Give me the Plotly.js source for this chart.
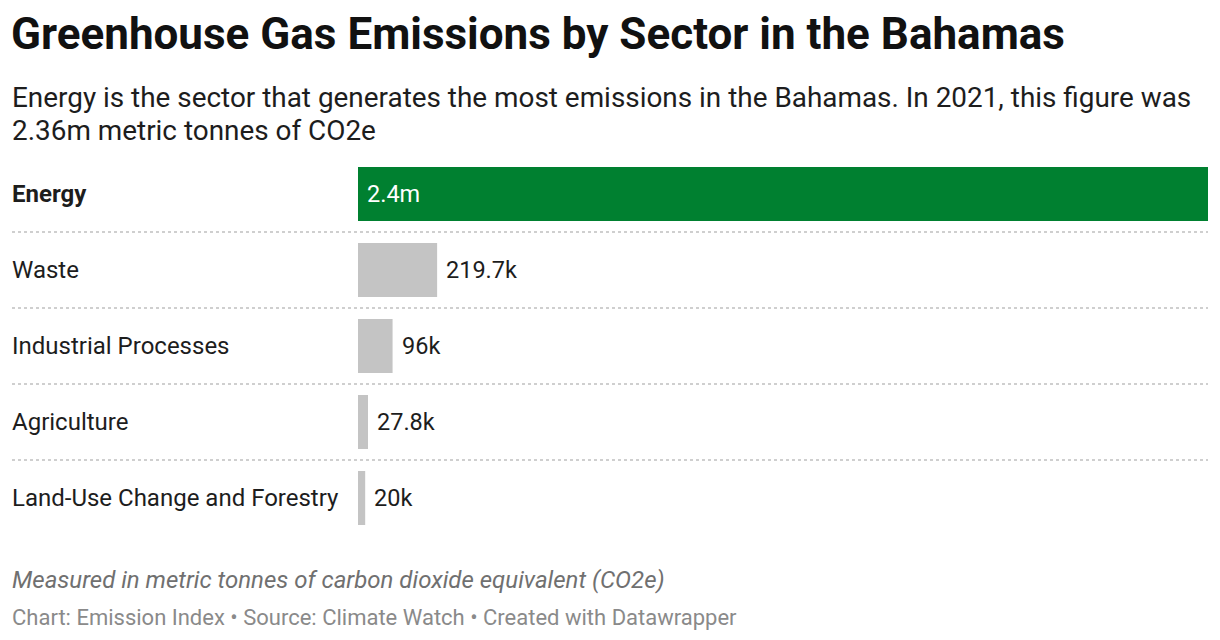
<!DOCTYPE html>
<html>
<head>
<meta charset="utf-8">
<script src="https://cdn.plot.ly/plotly-3.0.1.min.js"></script>
<style>
html, body { margin: 0; padding: 0; background: #fff; }
#chart { width: 1220px; height: 640px; }
</style>
</head>
<body>
<div id="chart"></div>
<script>
// sectors, top to bottom
var sectors = ['Energy', 'Waste', 'Industrial Processes', 'Agriculture', 'Land-Use Change and Forestry'];
var emissions = [2360000, 219700, 96000, 27800, 20000];
var valueLabels = ['2.4m', '219.7k', '96k', '27.8k', '20k'];
var barColors = ['#008030', '#c4c4c4', '#c4c4c4', '#c4c4c4', '#c4c4c4'];

var FONT = 'Roboto, "Noto Sans", sans-serif';
var W = 1220, H = 640;
var L = 358, R = 12, T = 156, B = 104;
var plotW = W - L - R, plotH = H - T - B;

// pixel -> paper helpers
function px(x) { return (x - L) / plotW; }
function py(y) { return (H - B - y) / plotH; }

var trace = {
  type: 'bar',
  orientation: 'h',
  x: emissions,
  y: sectors,
  marker: { color: barColors },
  hoverinfo: 'none'
};

var annotations = [];

// sector names on the left
sectors.forEach(function (s, i) {
  annotations.push({
    xref: 'paper', yref: 'y', x: px(10), y: s,
    xanchor: 'left', yanchor: 'middle', showarrow: false,
    text: i === 0 ? '<b>' + s + '</b>' : s,
    font: { family: FONT, size: 24, color: '#1d1d1d' }
  });
});

// value labels, inside for the first bar, after the bar for the rest
sectors.forEach(function (s, i) {
  var inside = i === 0;
  annotations.push({
    xref: 'x', yref: 'y', x: inside ? 0 : emissions[i], y: s,
    xanchor: 'left', yanchor: 'middle', showarrow: false, xshift: 7,
    text: valueLabels[i],
    font: { family: FONT, size: 23.5, color: inside ? '#ffffff' : '#1d1d1d' }
  });
});

// header and footer
var subtitle = [
  'Energy is the sector that generates the most emissions in the Bahamas. In 2021, this figure was',
  '2.36m metric tonnes of CO2e'
];
var subtitleY = [97, 130];
subtitle.forEach(function (line, i) {
  annotations.push({
    xref: 'paper', yref: 'paper', x: px(10), y: py(subtitleY[i]),
    xanchor: 'left', yanchor: 'middle', showarrow: false,
    text: line,
    font: { family: FONT, size: 27.9, color: '#1d1d1d' }
  });
});
annotations.push({
  xref: 'paper', yref: 'paper', x: px(10), y: py(580),
  xanchor: 'left', yanchor: 'middle', showarrow: false,
  text: '<i>Measured in metric tonnes of carbon dioxide equivalent (CO2e)</i>',
  font: { family: FONT, size: 24, color: '#707070' }
});
annotations.push({
  xref: 'paper', yref: 'paper', x: px(10), y: py(617),
  xanchor: 'left', yanchor: 'middle', showarrow: false,
  text: 'Chart: Emission Index • Source: Climate Watch • Created with Datawrapper',
  font: { family: FONT, size: 22, color: '#8a8a8a' }
});

// dotted row separators
var shapes = [];
for (var k = 0; k < sectors.length - 1; k++) {
  shapes.push({
    type: 'line', xref: 'paper', yref: 'y',
    x0: px(12), x1: 1, y0: k + 0.5, y1: k + 0.5,
    line: { color: '#cfcfcf', width: 2, dash: 'dot' }
  });
}

var layout = {
  width: W, height: H,
  margin: { l: L, r: R, t: T, b: B, pad: 0 },
  paper_bgcolor: '#ffffff',
  plot_bgcolor: '#ffffff',
  showlegend: false,
  bargap: 0.29,
  font: { family: FONT },
  title: {
    text: '<b>Greenhouse Gas Emissions by Sector in the Bahamas</b>',
    xref: 'container', yref: 'container',
    x: 11 / W, y: 1 - 34 / H, xanchor: 'left', yanchor: 'middle',
    font: { family: FONT, size: 44, color: '#111111' }
  },
  xaxis: {
    range: [0, 2360000],
    showgrid: false, zeroline: false, showticklabels: false, showline: false,
    fixedrange: true
  },
  yaxis: {
    autorange: 'reversed',
    showgrid: false, zeroline: false, showticklabels: false, showline: false,
    fixedrange: true
  },
  annotations: annotations,
  shapes: shapes
};

Plotly.newPlot('chart', [trace], layout, { displayModeBar: false, staticPlot: true });
</script>
</body>
</html>
